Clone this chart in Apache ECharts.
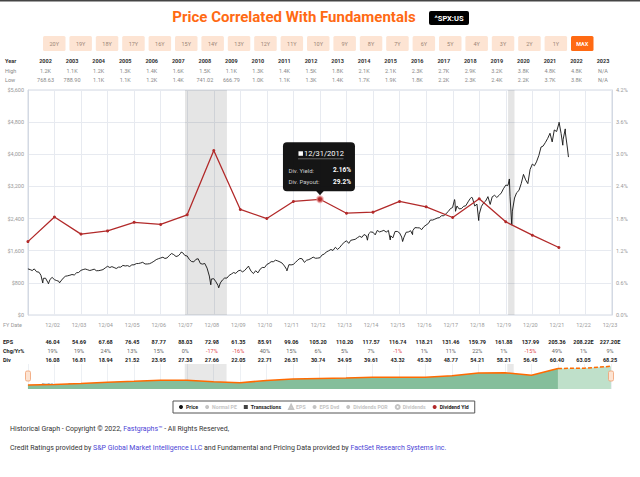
<!DOCTYPE html>
<html><head><meta charset="utf-8">
<script src="https://cdn.jsdelivr.net/npm/echarts@6/dist/echarts.min.js"></script>
<style>html,body{margin:0;padding:0;background:#fff;}#c{width:640px;height:477px;}</style>
</head><body><div id="c"></div>
<script>
// ---------- data ----------
const years = [2002,2003,2004,2005,2006,2007,2008,2009,2010,2011,2012,2013,2014,2015,2016,2017,2018,2019,2020,2021,2022,2023];
const highs = ['1.2K','1.1K','1.2K','1.3K','1.4K','1.6K','1.5K','1.1K','1.3K','1.4K','1.5K','1.8K','2.1K','2.1K','2.3K','2.7K','2.9K','3.2K','3.8K','4.8K','4.8K','N/A'];
const lows = ['768.63','788.90','1.1K','1.1K','1.2K','1.4K','741.02','666.79','1.0K','1.1K','1.3K','1.4K','1.7K','1.9K','1.8K','2.2K','2.3K','2.4K','2.2K','3.7K','3.8K','N/A'];
const fyDates = ['12/02','12/03','12/04','12/05','12/06','12/07','12/08','12/09','12/10','12/11','12/12','12/13','12/14','12/15','12/16','12/17','12/18','12/19','12/20','12/21','12/22','12/23'];
const epsValues = [46.04,54.69,67.68,76.45,87.77,88.03,72.98,61.35,85.91,99.06,105.20,110.20,117.57,116.74,118.21,131.46,159.79,161.88,137.99,205.36,208.22,227.20];
const epsEstimated = [false,false,false,false,false,false,false,false,false,false,false,false,false,false,false,false,false,false,false,false,true,true];
const chgValues = [19,19,24,13,15,0,-17,-16,40,15,6,5,7,-1,1,11,22,1,-15,49,1,9];
const divValues = [16.08,16.81,18.94,21.52,23.95,27.38,27.66,22.05,22.71,26.51,30.74,34.95,39.61,43.32,45.30,48.77,54.21,58.21,56.45,60.40,63.05,68.25];
const navLabels = ['FY02','FY03','FY04','FY05','FY06','FY07','FY08','FY09','FY10','FY11','FY12','FY13','FY14','FY15','FY16','FY17','FY18','FY19','FY20','FY21','FY22','FY23'];
const navEpsStart = ['2001-12-31', 39];
const yieldDates = ['2001-12-31','2002-12-31','2003-12-31','2004-12-31','2005-12-31','2006-12-31','2007-12-31','2008-12-31','2009-12-31','2010-12-31','2011-12-31','2012-12-31','2013-12-31','2014-12-31','2015-12-31','2016-12-31','2017-12-31','2018-12-31','2019-12-31','2020-12-31','2021-12-31'];
const yieldValues = [1.37,1.83,1.51,1.57,1.73,1.69,1.87,3.07,1.97,1.80,2.12,2.16,1.90,1.92,2.12,2.02,1.82,2.17,1.74,1.49,1.26];
const tooltipDate = '2012-12-31';
const tooltipDateLabel = '12/31/2012';
const tooltipPayout = '29.2%';
const recessions = [['2007-12-01','2009-06-30'],['2020-02-01','2020-04-30']];
const buttonLabels = ['20Y','19Y','18Y','17Y','16Y','15Y','14Y','13Y','12Y','11Y','10Y','9Y','8Y','7Y','6Y','5Y','4Y','3Y','2Y','1Y','MAX'];
const leftTicks = {min:0, max:5600, step:800};
const rightTicks = {min:0, max:4.2, step:0.6};
const priceData = [
['2001-12-31',1148],
['2002-01-31',1130],['2002-02-28',1107],['2002-03-28',1147],['2002-04-30',1076],['2002-05-31',1067],['2002-06-28',990],['2002-07-23',797],['2002-07-31',912],['2002-08-30',916],['2002-09-30',815],['2002-10-09',777],['2002-10-31',886],['2002-11-29',936],['2002-12-31',880],
['2003-01-31',856],['2003-02-28',841],['2003-03-11',800],['2003-03-31',848],['2003-04-30',917],['2003-05-30',964],['2003-06-30',975],['2003-07-31',990],['2003-08-29',1008],['2003-09-30',996],['2003-10-31',1051],['2003-11-28',1058],['2003-12-31',1112],
['2004-01-30',1131],['2004-02-27',1145],['2004-03-31',1126],['2004-04-30',1107],['2004-05-28',1121],['2004-06-30',1141],['2004-07-30',1102],['2004-08-31',1104],['2004-09-30',1115],['2004-10-29',1130],['2004-11-30',1174],['2004-12-31',1212],
['2005-01-31',1181],['2005-02-28',1204],['2005-03-31',1181],['2005-04-29',1157],['2005-05-31',1192],['2005-06-30',1191],['2005-07-29',1234],['2005-08-31',1220],['2005-09-30',1229],['2005-10-31',1207],['2005-11-30',1249],['2005-12-30',1248],
['2006-01-31',1280],['2006-02-28',1281],['2006-03-31',1295],['2006-04-28',1311],['2006-05-31',1270],['2006-06-30',1270],['2006-07-31',1277],['2006-08-31',1304],['2006-09-29',1336],['2006-10-31',1378],['2006-11-30',1401],['2006-12-29',1418],
['2007-01-31',1438],['2007-02-28',1407],['2007-03-30',1421],['2007-04-30',1482],['2007-05-31',1531],['2007-06-29',1503],['2007-07-31',1455],['2007-08-31',1474],['2007-09-28',1527],['2007-10-09',1565],['2007-10-31',1549],['2007-11-30',1481],['2007-12-31',1468],
['2008-01-31',1379],['2008-02-29',1331],['2008-03-31',1323],['2008-04-30',1386],['2008-05-30',1400],['2008-06-30',1280],['2008-07-31',1267],['2008-08-29',1283],['2008-09-30',1166],['2008-10-31',969],['2008-11-20',752],['2008-11-28',896],['2008-12-31',903],
['2009-01-30',826],['2009-02-27',735],['2009-03-09',677],['2009-03-31',798],['2009-04-30',873],['2009-05-29',919],['2009-06-30',919],['2009-07-31',987],['2009-08-31',1021],['2009-09-30',1057],['2009-10-30',1036],['2009-11-30',1096],['2009-12-31',1115],
['2010-01-29',1074],['2010-02-26',1104],['2010-03-31',1169],['2010-04-23',1217],['2010-04-30',1187],['2010-05-28',1089],['2010-06-30',1031],['2010-07-02',1022],['2010-07-30',1102],['2010-08-31',1049],['2010-09-30',1141],['2010-10-29',1183],['2010-11-30',1181],['2010-12-31',1258],
['2011-01-31',1286],['2011-02-28',1327],['2011-03-31',1326],['2011-04-29',1364],['2011-05-31',1345],['2011-06-30',1321],['2011-07-29',1292],['2011-08-31',1219],['2011-09-30',1131],['2011-10-03',1099],['2011-10-31',1253],['2011-11-30',1247],['2011-12-30',1258],
['2012-01-31',1312],['2012-02-29',1366],['2012-03-30',1408],['2012-04-30',1398],['2012-05-31',1310],['2012-06-29',1362],['2012-07-31',1379],['2012-08-31',1407],['2012-09-28',1441],['2012-10-31',1412],['2012-11-30',1416],['2012-12-31',1426],
['2013-01-31',1498],['2013-02-28',1515],['2013-03-28',1569],['2013-04-30',1598],['2013-05-31',1631],['2013-06-28',1606],['2013-07-31',1686],['2013-08-30',1633],['2013-09-30',1682],['2013-10-31',1757],['2013-11-29',1806],['2013-12-31',1848],
['2014-01-31',1783],['2014-02-28',1859],['2014-03-31',1872],['2014-04-30',1884],['2014-05-30',1924],['2014-06-30',1960],['2014-07-31',1931],['2014-08-29',2003],['2014-09-30',1972],['2014-10-15',1862],['2014-10-31',2018],['2014-11-28',2068],['2014-12-31',2059],
['2015-01-30',1995],['2015-02-27',2105],['2015-03-31',2068],['2015-04-30',2086],['2015-05-29',2107],['2015-06-30',2063],['2015-07-31',2104],['2015-08-25',1868],['2015-08-31',1972],['2015-09-30',1920],['2015-10-30',2079],['2015-11-30',2080],['2015-12-31',2044],
['2016-01-29',1940],['2016-02-11',1829],['2016-02-29',1932],['2016-03-31',2060],['2016-04-29',2065],['2016-05-31',2097],['2016-06-27',2001],['2016-06-30',2099],['2016-07-29',2174],['2016-08-31',2171],['2016-09-30',2168],['2016-10-31',2126],['2016-11-30',2199],['2016-12-30',2239],
['2017-01-31',2279],['2017-02-28',2364],['2017-03-31',2363],['2017-04-28',2384],['2017-05-31',2412],['2017-06-30',2423],['2017-07-31',2470],['2017-08-31',2472],['2017-09-29',2519],['2017-10-31',2575],['2017-11-30',2648],['2017-12-29',2674],
['2018-01-26',2873],['2018-01-31',2824],['2018-02-08',2581],['2018-02-28',2714],['2018-03-29',2641],['2018-04-30',2648],['2018-05-31',2705],['2018-06-29',2718],['2018-07-31',2816],['2018-08-31',2902],['2018-09-20',2931],['2018-09-28',2914],['2018-10-31',2712],['2018-11-30',2760],['2018-12-24',2351],['2018-12-31',2507],
['2019-01-31',2704],['2019-02-28',2784],['2019-03-29',2834],['2019-04-30',2946],['2019-05-31',2752],['2019-06-28',2942],['2019-07-31',2980],['2019-08-30',2926],['2019-09-30',2977],['2019-10-31',3038],['2019-11-29',3141],['2019-12-31',3231],
['2020-01-31',3226],['2020-02-19',3386],['2020-02-28',2954],['2020-03-23',2237],['2020-03-31',2585],['2020-04-30',2912],['2020-05-29',3044],['2020-06-30',3100],['2020-07-31',3271],['2020-08-31',3500],['2020-09-30',3363],['2020-10-30',3270],['2020-11-30',3622],['2020-12-31',3756],
['2021-01-29',3714],['2021-02-26',3811],['2021-03-31',3973],['2021-04-30',4181],['2021-05-28',4204],['2021-06-30',4298],['2021-07-30',4395],['2021-08-31',4523],['2021-09-30',4308],['2021-10-29',4605],['2021-11-30',4567],['2021-12-31',4766],
['2022-01-03',4797],['2022-01-31',4516],['2022-02-23',4226],['2022-02-28',4374],['2022-03-29',4632],['2022-03-31',4530],['2022-04-29',4132],['2022-05-12',3930]
];

// ---------- helpers ----------
const ts = s => Date.parse(s);
const DAY = 86400000, YEAR = 365.25 * DAY;
const xMin = Date.UTC(2002,0,1), xMax = Date.UTC(2024,0,1);
const FONT = 'Roboto, "Noto Sans", sans-serif';

const chart = echarts.init(document.getElementById('c'), null, {renderer:'svg', width:640, height:477});

const yieldSeriesData = yieldDates.map((d,i) => {
  const item = {value:[ts(d), yieldValues[i]]};
  if (d === tooltipDate) {
    item.symbolSize = 6;
    item.itemStyle = {color:'#b22a2a', borderColor:'rgba(235,150,150,0.6)', borderWidth:2};
  }
  return item;
});

const navActual = [[ts(navEpsStart[0]), navEpsStart[1]]];
const navEst = [];
years.forEach((y,i) => {
  const p = [ts(y + '-12-31'), epsValues[i]];
  if (!epsEstimated[i]) navActual.push(p);
  if (y >= 2021) navEst.push(p);
});

const xAxisBase = {type:'value', min:xMin, max:xMax, interval:YEAR,
  axisLabel:{show:false}, axisTick:{show:false}, axisLine:{show:false}};

const option = {
  animation:false,
  backgroundColor:'#fff',
  textStyle:{fontFamily:FONT},
  grid:[
    {left:28, right:28, top:90, height:225, show:true, borderColor:'#d3d9e3', borderWidth:1, containLabel:false},
    {left:28, right:29, top:364, height:25, show:false, containLabel:false}
  ],
  xAxis:[
    Object.assign({}, xAxisBase, {gridIndex:0, splitLine:{show:true, lineStyle:{color:'#e7eaf0', width:1}}}),
    Object.assign({}, xAxisBase, {gridIndex:1, splitLine:{show:true, lineStyle:{color:'#edf0f4', width:1}}})
  ],
  yAxis:[
    {type:'value', gridIndex:0, position:'left', min:leftTicks.min, max:leftTicks.max, interval:leftTicks.step,
     axisLine:{show:true, lineStyle:{color:'#d3d9e3'}}, axisTick:{show:false},
     splitLine:{show:true, lineStyle:{color:'#e7eaf0'}},
     axisLabel:{fontSize:5.5, color:'#999', margin:4, fontFamily:FONT, formatter:v => '$' + Math.round(v).toLocaleString('en-US')}},
    {type:'value', gridIndex:0, position:'right', min:rightTicks.min, max:rightTicks.max, interval:rightTicks.step,
     axisLine:{show:true, lineStyle:{color:'#d3d9e3'}}, axisTick:{show:false}, splitLine:{show:false},
     axisLabel:{fontSize:5.5, color:'#999', margin:4, fontFamily:FONT, formatter:v => v.toFixed(1) + '%'}},
    {type:'value', gridIndex:1, min:0, max:250, show:false, splitLine:{show:false}}
  ],
  legend:{
    left:173, top:401, orient:'horizontal', itemWidth:4, itemHeight:4, itemGap:7,
    padding:[3,6], borderColor:'#555', borderWidth:1, borderRadius:0,
    textStyle:{fontSize:5.2, fontWeight:'bold', color:'#222', fontFamily:FONT, padding:[0,0,0,-2]},
    inactiveColor:'#c4c4c4', inactiveBorderWidth:0,
    selected:{'Normal PE':false,'EPS':false,'EPS Dvd':false,'Dividends POR':false,'Dividends':false},
    data:[
      {name:'Price', icon:'circle'},
      {name:'Normal PE', icon:'circle'},
      {name:'Transactions', icon:'rect'},
      {name:'EPS', icon:'emptyTriangle'},
      {name:'EPS Dvd', icon:'circle'},
      {name:'Dividends POR', icon:'circle'},
      {name:'Dividends', icon:'emptyCircle'},
      {name:'Dividend Yld', icon:'circle'}
    ]
  },
  series:[
    {name:'Price', type:'line', xAxisIndex:0, yAxisIndex:0, z:3,
     data:priceData.map(d => [ts(d[0]), d[1]]),
     showSymbol:false, symbol:'circle', color:'#111', lineStyle:{width:0.9, color:'#111'},
     markArea:{silent:true, itemStyle:{color:'rgba(0,0,0,0.10)'},
       data:recessions.map(r => [{xAxis:ts(r[0])},{xAxis:ts(r[1])}])}},
    {name:'Normal PE', type:'line', data:[], color:'#4a6fb5'},
    {name:'Transactions', type:'scatter', data:[], color:'#111'},
    {name:'EPS', type:'line', data:[], color:'#ff6a00'},
    {name:'EPS Dvd', type:'line', data:[], color:'#aa3399'},
    {name:'Dividends POR', type:'line', data:[], color:'#22aa44'},
    {name:'Dividends', type:'line', data:[], color:'#888'},
    {name:'Dividend Yld', type:'line', xAxisIndex:0, yAxisIndex:1, z:4,
     data:yieldSeriesData, color:'#b22a2a', symbol:'circle', symbolSize:3, showSymbol:true,
     lineStyle:{width:1.3, color:'#b22a2a'}},
    {type:'line', xAxisIndex:1, yAxisIndex:2, data:navActual, showSymbol:false, z:2,
     color:'#ff6a00', lineStyle:{width:1.5, color:'#ff6a00'},
     areaStyle:{color:'#85be9b', opacity:1},
     markArea:{silent:true, itemStyle:{color:'rgba(0,0,0,0.09)'},
       data:recessions.map(r => [{xAxis:ts(r[0])},{xAxis:ts(r[1])}])}},
    {type:'line', xAxisIndex:1, yAxisIndex:2, data:navEst, showSymbol:false, z:2,
     color:'#ff6a00', lineStyle:{width:1.5, color:'#ff6a00', type:[4,2]},
     areaStyle:{color:'#bfe0ca', opacity:1}}
  ]
};
chart.setOption(option);

// ---------- text / decoration built on the library's scales ----------
const gx = yr => chart.convertToPixel({xAxisIndex:0}, Date.UTC(yr + 1, 0, 1));
const T = (text, x, y, o) => ({type:'text', silent:true,
  style:Object.assign({text:text, x:x, y:y, fill:'#777', fontSize:5.5, fontFamily:FONT,
    textAlign:'center', textVerticalAlign:'middle'}, o || {})});
const g = [];

// top strip
g.push({type:'rect', silent:true, shape:{x:0, y:0, width:640, height:1.5}, style:{fill:'#444'}});

// title & badge
g.push(T('Price Correlated With Fundamentals', 294, 16.5, {fill:'#ff6a13', fontSize:15, fontWeight:'bold'}));
g.push({type:'rect', silent:true, shape:{x:429, y:11, width:40, height:14, r:2}, style:{fill:'#000'}});
g.push(T('^SPX:US', 449, 18.3, {fill:'#fff', fontSize:7.5, fontWeight:'bold'}));

// range buttons
buttonLabels.forEach((b,i) => {
  const x = 43 + i * 26.4, on = b === 'MAX';
  g.push({type:'rect', silent:true, shape:{x:x, y:36, width:22.5, height:15, r:1.5},
    style:{fill:on ? '#ff6a13' : '#fde4d3'}});
  g.push(T(b, x + 11.25, 43.7, {fill:on ? '#fff' : '#9b8576', fontSize:5.5, fontWeight:on ? 'bold' : 'normal'}));
});

// Year / High / Low table
g.push(T('Year', 5, 61, {textAlign:'left', fill:'#333', fontWeight:'bold'}));
g.push(T('High', 5, 71, {textAlign:'left', fill:'#888'}));
g.push(T('Low', 5, 80, {textAlign:'left', fill:'#888'}));
years.forEach((yr,i) => {
  const x = gx(yr) - 9;
  g.push(T(String(yr), x, 61, {fill:'#333', fontWeight:'bold'}));
  g.push(T(highs[i], x, 71, {fill:'#888'}));
  g.push(T(lows[i], x, 80, {fill:'#888'}));
});

// FY table under the chart
g.push(T('FY Date', 3, 325, {textAlign:'left', fill:'#999'}));
g.push(T('EPS', 3, 342, {textAlign:'left', fill:'#222', fontWeight:'bold'}));
g.push(T('Chg/Yr%', 3, 351, {textAlign:'left', fill:'#222', fontWeight:'bold'}));
g.push(T('Div', 3, 360, {textAlign:'left', fill:'#222', fontWeight:'bold'}));
years.forEach((yr,i) => {
  const x = gx(yr) - 2;
  g.push(T(fyDates[i], x, 325, {fill:'#999'}));
  g.push(T(epsValues[i].toFixed(2) + (epsEstimated[i] ? 'E' : ''), x, 342, {fill:'#222', fontWeight:'bold'}));
  g.push(T(chgValues[i] + '%', x, 351, {fill:chgValues[i] < 0 ? '#e0474c' : '#666'}));
  g.push(T(divValues[i].toFixed(2), x, 360, {fill:'#222', fontWeight:'bold'}));
});

// navigator labels & handles
years.forEach((yr,i) => {
  g.push(T(navLabels[i], gx(yr) - 7, 384.5, {fill:'#7d8a80', fontSize:5}));
});
const navL = chart.convertToPixel({xAxisIndex:1}, xMin);
const navR = chart.convertToPixel({xAxisIndex:1}, xMax);
[navL, navR].forEach(x => {
  g.push({type:'rect', silent:true, z:100, shape:{x:x - 2.5, y:371, width:5, height:10, r:1.5},
    style:{fill:'#fde4d3', stroke:'#f0a070', lineWidth:0.8}});
});

// tooltip for 12/31/2012
const tipIdx = yieldDates.indexOf(tooltipDate);
const tp = chart.convertToPixel({seriesIndex:7}, [ts(yieldDates[tipIdx]), yieldValues[tipIdx]]);
const px = tp[0], py = tp[1];
const tipZ = 200;
const tipTexts = [];
g.push({type:'rect', silent:true, z:tipZ, shape:{x:px - 37, y:py - 57, width:72, height:49, r:4},
  style:{fill:'rgba(8,8,8,0.95)'}});
g.push({type:'polygon', silent:true, z:tipZ, shape:{points:[[px - 4, py - 8.5],[px + 4, py - 8.5],[px, py - 4]]},
  style:{fill:'rgba(8,8,8,0.95)'}});
g.push({type:'rect', silent:true, z:tipZ + 1, shape:{x:px - 21.5, y:py - 48, width:4.5, height:4.5}, style:{fill:'#fff'}});
g.push({type:'line', silent:true, z:tipZ + 1, shape:{x1:px - 22, y1:py - 40.5, x2:px + 23.5, y2:py - 40.5},
  style:{stroke:'#777', lineWidth:0.8}});
tipTexts.push(T(tooltipDateLabel, px - 16, py - 45.5, {textAlign:'left', fill:'#fff', fontSize:7.5}));
tipTexts.push(T('Div. Yield:', px - 31.5, py - 29, {textAlign:'left', fill:'#cfcfcf', fontSize:6}));
tipTexts.push(T(yieldValues[tipIdx].toFixed(2) + '%', px + 31, py - 29, {textAlign:'right', fill:'#fff', fontSize:6.5, fontWeight:'bold'}));
tipTexts.push(T('Div. Payout:', px - 31.5, py - 17.5, {textAlign:'left', fill:'#cfcfcf', fontSize:6}));
tipTexts.push(T(tooltipPayout, px + 31, py - 17.5, {textAlign:'right', fill:'#fff', fontSize:6.5, fontWeight:'bold'}));
tipTexts.forEach(e => { e.z = tipZ + 2; g.push(e); });

// footer
const linkRich = {a:{fill:'#4b45d6', fontSize:7, fontFamily:FONT}};
g.push(T('Historical Graph - Copyright © 2022, {a|Fastgraphs™} - All Rights Reserved,', 10, 429,
  {textAlign:'left', fill:'#333', fontSize:7, rich:linkRich}));
g.push(T('Credit Ratings provided by {a|S&P Global Market Intelligence LLC} and Fundamental and Pricing Data provided by {a|FactSet Research Systems Inc.}', 10, 447.5,
  {textAlign:'left', fill:'#333', fontSize:7, rich:linkRich}));

chart.setOption({graphic:{elements:g}});
</script>
</body></html>
